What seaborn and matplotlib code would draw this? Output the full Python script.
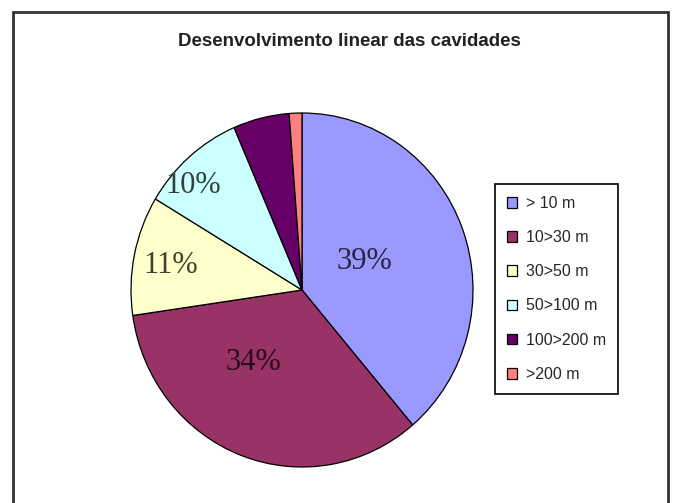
import matplotlib
matplotlib.use("Agg")
import matplotlib.pyplot as plt
import matplotlib.patches as mpatches
import numpy as np
import seaborn as sns

# data
categories = ["> 10 m", "10>30 m", "30>50 m", "50>100 m", "100>200 m", ">200 m"]
shares = [38.8, 33.9, 10.9, 9.9, 5.3, 1.2]
show_label = [True, True, True, True, False, False]
title = "Desenvolvimento linear das cavidades"

# excel 2003 style colours
palette = sns.color_palette(["#9999FF", "#993366", "#FFFFCC", "#CCFFFF", "#660066", "#FF8080"])

# label placement tweaks (radius, angle shift in degrees)
label_r = [0.40, 0.50, 0.78, 0.87, 0.6, 0.6]
label_shift = [4, -14, 1, 6, 0, 0]

sns.set_theme(style="white")
plt.rcParams["font.family"] = ["Liberation Sans", "DejaVu Sans"]

fig = plt.figure(figsize=(6.83, 5.03), dpi=100)
fig.patch.set_facecolor("white")

ax = fig.add_axes([131 / 683, 1 - 467 / 503, 342 / 683, 354 / 503])
wedges, _ = ax.pie(shares, colors=palette, startangle=90, counterclock=False,
                   wedgeprops=dict(edgecolor="black", linewidth=0.9))
ax.set_aspect("auto")
ax.set_xlim(-1, 1)
ax.set_ylim(-1, 1)
ax.axis("off")

total = sum(shares)
for w, val, show, r, dth, col in zip(wedges, shares, show_label, label_r, label_shift, palette):
    if not show:
        continue
    mid = np.deg2rad((w.theta1 + w.theta2) / 2 + dth)
    tc = tuple(np.array(col) * 0.25)
    ax.text(r * np.cos(mid), r * np.sin(mid), f"{val / total * 100:.0f}%",
            ha="center", va="center", fontsize=22, color=tc,
            family=["Liberation Serif", "DejaVu Serif"])

fig.text(0.512, 1 - 41 / 503, title, ha="center", va="center",
         fontsize=13.5, fontweight="bold", color="#222222")

leg = fig.legend(wedges, categories, loc="upper left",
                 bbox_to_anchor=(495 / 683, 1 - 184 / 503), bbox_transform=fig.transFigure,
                 frameon=True, fancybox=False, shadow=False, fontsize=11.5,
                 handlelength=0.65, handleheight=0.65, handletextpad=0.55,
                 labelspacing=1.2, borderpad=0.75, borderaxespad=0)
leg.get_frame().set_edgecolor("black")
leg.get_frame().set_linewidth(1.2)
leg.get_frame().set_alpha(1)

# outer chart border
border = mpatches.Rectangle((13 / 683, -0.05), (668 - 13) / 683, 1 - 12 / 503 + 0.05,
                            transform=fig.transFigure, fill=False,
                            edgecolor="#333333", linewidth=2, clip_on=False)
fig.patches.append(border)

fig.savefig("out.png", dpi=100, facecolor="white")
